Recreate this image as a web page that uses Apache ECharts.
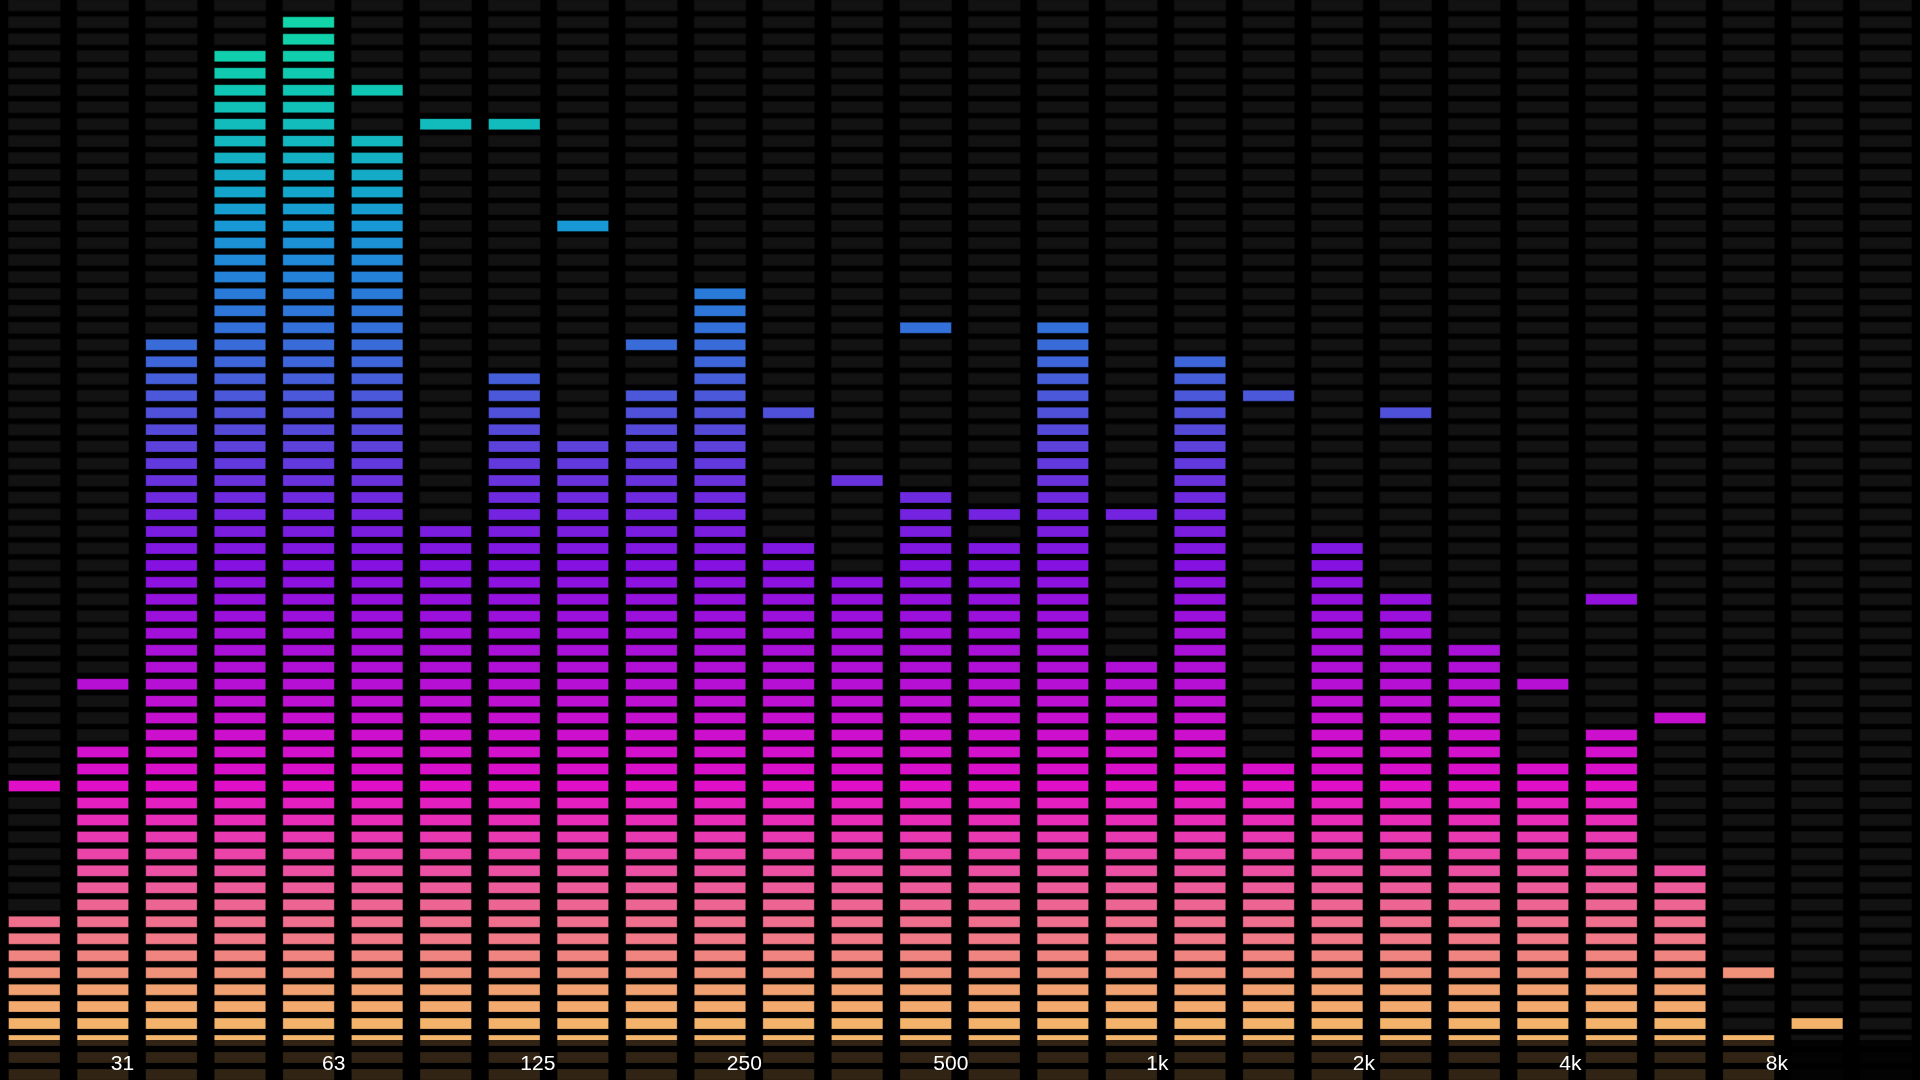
<!DOCTYPE html>
<html>
<head>
<meta charset="utf-8">
<script src="https://cdn.jsdelivr.net/npm/echarts@6/dist/echarts.min.js"></script>
<style>
html,body{margin:0;padding:0;background:#000;overflow:hidden;}
#chart{width:1920px;height:1080px;}
</style>
</head>
<body>
<div id="chart"></div>
<script>
// ---- data -------------------------------------------------------------
// 28 spectrum bands (1/3 octave)
const bands = ['B1','B2','B3','B4','B5','B6','B7','B8','B9','B10','B11','B12','B13','B14',
               'B15','B16','B17','B18','B19','B20','B21','B22','B23','B24','B25','B26','B27','B28'];
// lit segments per band, counted from the bottom row
const levels = [10,20,44,61,63,56,33,42,38,41,47,32,30,35,32,45,25,43,19,32,29,26,19,21,13,3,0,0];
// peak-hold segment index per band (null = none)
const peaks  = [17,23,43,60,62,58,56,56,50,43,46,39,35,44,33,44,33,42,40,31,39,25,23,28,21,6,3,null];
// frequency axis tick values and labels
const tickValues = [31,63,125,250,500,1000,2000,4000,8000];
const tickLabels = ['31','63','125','250','500','1k','2k','4k','8k'];
const freqMin = 20.55;
const freqMax = 12935;
const segmentRows = 64;

// ---- style --------------------------------------------------------------
const colorStops = [
  [0,'#12d6a6'],[3,'#10cfac'],[5,'#10c6b4'],[7,'#12bcbc'],[9,'#14b1c4'],[11,'#14a5cc'],
  [13,'#1898d4'],[15,'#2089d8'],[17,'#2a7bd9'],[19,'#3370d9'],[21,'#3e65d9'],[23,'#4a58d9'],
  [25,'#5549da'],[27,'#6239dc'],[29,'#6e2adf'],[31,'#7a1de1'],[33,'#8612e1'],[36,'#9c10dc'],
  [40,'#b610d4'],[43,'#cc10cd'],[46,'#e010c8'],[48,'#e72db8'],[50,'#ea44a9'],[52,'#ec5b9a'],
  [54,'#ee6e8c'],[56,'#ef8481'],[58,'#f1a072'],[60,'#f3b36b'],[63,'#f3b56a']
];
function colorAtRowFromTop(t) {
  for (let k = 0; k < colorStops.length - 1; k++) {
    const a = colorStops[k], b = colorStops[k + 1];
    if (t >= a[0] && t <= b[0]) {
      const f = (t - a[0]) / (b[0] - a[0]);
      return echarts.color.lerp(f, [a[1], b[1]]);
    }
  }
  return colorStops[colorStops.length - 1][1];
}

const chart = echarts.init(document.getElementById('chart'), null, {renderer: 'canvas'});

function renderItem(params, api) {
  const i = api.value(0);
  const level = api.value(1);
  const peak = api.value(2);
  const center = api.coord([i, 0]);
  const band = api.size([1, 0])[0];
  const pitch = api.size([0, 1])[1];
  const w = band * 0.75;
  const h = pitch * 0.648;
  const x = center[0] - w / 2;
  const children = [];
  for (let q = 0; q < segmentRows; q++) {
    const yb = api.coord([i, q])[1];
    const lit = q < level || q === peak;
    children.push({
      type: 'rect',
      shape: {x: x, y: yb - h, width: w, height: h},
      style: lit
        ? {fill: colorAtRowFromTop(segmentRows - 1 - q), stroke: 'rgba(0,0,0,0.3)', lineWidth: 1}
        : {fill: '#121212', stroke: '#0e0e0e', lineWidth: 1}
    });
  }
  return {type: 'group', children: children};
}

const seriesData = bands.map((b, i) => [i, levels[i], peaks[i] == null ? -1 : peaks[i]]);

chart.setOption({
  backgroundColor: '#000',
  animation: false,
  grid: {left: 0, right: 0, top: 0, bottom: 0},
  xAxis: [
    {type: 'category', data: bands, show: false, boundaryGap: true},
    {
      type: 'log', min: freqMin, max: freqMax, position: 'bottom', z: 200,
      axisLine: {show: false}, axisTick: {show: false}, splitLine: {show: false},
      axisLabel: {
        inside: true, margin: 16, verticalAlign: 'middle',
        customValues: tickValues,
        color: '#ffffff', fontSize: 21, fontFamily: 'Liberation Sans, Arial, sans-serif',
        formatter: function (v) {
          let best = 0, bd = Infinity;
          tickValues.forEach((tv, k) => { const d = Math.abs(Math.log(v / tv)); if (d < bd) { bd = d; best = k; } });
          return tickLabels[best];
        }
      }
    }
  ],
  yAxis: {type: 'value', min: 0, max: 63.64, show: false, splitLine: {show: false}},
  graphic: [{
    type: 'rect', left: 0, bottom: 0, z: 100,
    shape: {width: 1920, height: 40},
    style: {fill: 'rgba(0,0,0,0.8)'}
  }],
  series: [{
    type: 'custom',
    xAxisIndex: 0,
    yAxisIndex: 0,
    renderItem: renderItem,
    encode: {x: 0, y: 1},
    data: seriesData,
    clip: false
  }]
});
</script>
</body>
</html>
